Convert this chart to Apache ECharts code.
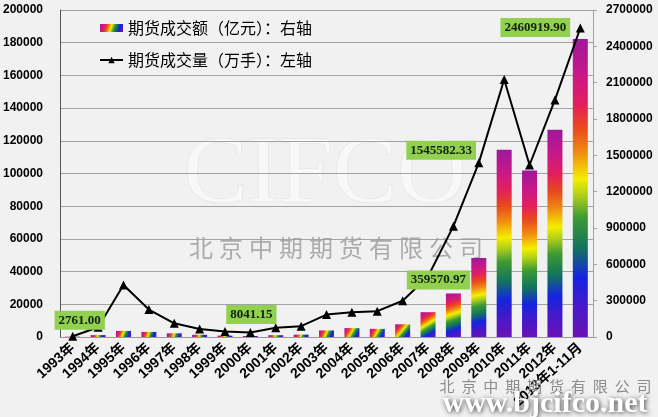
<!DOCTYPE html>
<html><head><meta charset="utf-8">
<script src="https://cdn.jsdelivr.net/npm/echarts@6/dist/echarts.min.js"></script>
<style>html,body{margin:0;padding:0;background:#f1f1f1}#c{width:658px;height:417px}</style>
</head><body><div id="c"></div>
<script>
// ---- data ----
const categories = ['1993年','1994年','1995年','1996年','1997年','1998年','1999年','2000年','2001年','2002年','2003年','2004年','2005年','2006年','2007年','2008年','2009年','2010年','2011年','2012年','2013年1-11月'];
// 期货成交额（亿元）— right axis (bars)
const turnover = [2761.00, 16005, 50282, 42060, 30585, 18484, 11172, 8041.15, 15072, 19745, 54199, 73468, 67232, 105031, 204870, 359570.97, 652571, 1545582.33, 1375116, 1711200, 2460919.90];
// 期货成交量（万手）— left axis (line)
const volume = [500, 6000, 31800, 16800, 8400, 4900, 3400, 2700, 5700, 6600, 13700, 15200, 15800, 22200, 37000, 67800, 106500, 157500, 105200, 145000, 189000];
const leftAxisMax = 200000, leftAxisStep = 20000;
const rightAxisMax = 2700000, rightAxisStep = 300000;
const seriesNames = ['期货成交额（亿元）：右轴', '期货成交量（万手）：左轴'];
const labeledIdx = [0, 7, 15, 17, 20];

// ---- styles ----
const labelOffsets = {0: [7, -7], 7: [1, -12], 15: [-15, -4], 17: [-63, 10], 20: [-45, -2]};
const rainbow = new echarts.graphic.LinearGradient(0, 0, 1, 1, [
  {offset: 0, color: '#9c189c'},
  {offset: 0.12, color: '#c81888'},
  {offset: 0.22, color: '#e4205c'},
  {offset: 0.30, color: '#e84a1c'},
  {offset: 0.38, color: '#f08a12'},
  {offset: 0.47, color: '#f4ee00'},
  {offset: 0.53, color: '#a8cc1c'},
  {offset: 0.60, color: '#3c9a34'},
  {offset: 0.70, color: '#12745c'},
  {offset: 0.80, color: '#1424e0'},
  {offset: 0.90, color: '#4818c8'},
  {offset: 1, color: '#6c12b4'}
]);
const axisFont = {fontFamily: 'Liberation Sans, Noto Sans CJK SC', fontWeight: 'bold', color: '#000'};
const plain = v => String(v);

const graphics = [];
graphics.push({type: 'text', z: -1, left: 183, top: 128, silent: true,
  style: {text: 'CIFCO', font: '96px "Liberation Serif"', fill: '#f8f8f8', stroke: '#e0e0e0', lineWidth: 1}});
'北京中期期货有限公司'.split('').forEach((ch, i) => graphics.push({type: 'text', z: -1, silent: true,
  x: 201 + i * 30, y: 248,
  style: {text: ch, font: '24px "Noto Sans CJK SC"', fill: '#ababab', align: 'center', verticalAlign: 'middle'}}));
'北京中期期货有限公司'.split('').forEach((ch, i) => graphics.push({type: 'text', z: 100, silent: true,
  x: 447 + i * 21.9, y: 386,
  style: {text: ch, font: '15px "Noto Sans CJK SC"', fill: '#8c8c8c', align: 'center', verticalAlign: 'middle'}}));
graphics.push({type: 'text', z: 100, silent: true, x: 545, y: 404,
  style: {text: 'www.bjcifco.net', font: 'bold 30px "Liberation Serif"', fill: '#ffffff', align: 'center', verticalAlign: 'middle',
    textShadowColor: 'rgba(0,0,0,0.75)', textShadowBlur: 5, textShadowOffsetX: 1, textShadowOffsetY: 1}});

const chart = echarts.init(document.getElementById('c'), null, {renderer: 'canvas'});
chart.setOption({
  backgroundColor: '#f1f1f1',
  animation: false,
  graphic: graphics,
  grid: {left: 55, right: 65, top: 10, bottom: 80, containLabel: false},
  legend: {
    data: [{name: seriesNames[0], icon: 'rect'}, {name: seriesNames[1]}],
    orient: 'vertical', left: 99, top: 20, padding: 0,
    itemWidth: 23, itemHeight: 8, itemGap: 16,
    textStyle: {fontSize: 16, lineHeight: 16, color: '#000', fontFamily: 'Noto Sans CJK SC'}
  },
  xAxis: {
    type: 'category', data: categories,
    axisLine: {lineStyle: {color: '#999'}},
    axisTick: {show: false},
    axisLabel: Object.assign({interval: 0, rotate: 42, fontSize: 14, margin: 9}, axisFont)
  },
  yAxis: [{
    type: 'value', min: 0, max: leftAxisMax, interval: leftAxisStep, position: 'left',
    axisLine: {show: true, lineStyle: {color: '#555'}},
    axisTick: {show: false},
    splitLine: {lineStyle: {color: '#a2a2a2'}},
    axisLabel: Object.assign({fontSize: 12, margin: 17, formatter: plain}, axisFont)
  }, {
    type: 'value', min: 0, max: rightAxisMax, interval: rightAxisStep, position: 'right',
    axisLine: {show: true, lineStyle: {color: '#a2a2a2'}},
    axisTick: {show: true, length: 4, lineStyle: {color: '#a2a2a2'}},
    splitLine: {show: false},
    axisLabel: Object.assign({fontSize: 12, margin: 13, formatter: plain}, axisFont)
  }],
  series: [{
    name: seriesNames[0], type: 'bar', yAxisIndex: 1, barWidth: 15, z: 2,
    itemStyle: {color: rainbow},
    data: turnover
  }, {
    name: seriesNames[1], type: 'line', yAxisIndex: 0, z: 3,
    symbol: 'triangle', symbolSize: 9,
    lineStyle: {color: '#000', width: 2},
    itemStyle: {color: '#000'},
    data: volume
  }, {
    name: 'labels', type: 'bar', yAxisIndex: 1, barWidth: 15, barGap: '-100%', z: 5, silent: true,
    itemStyle: {color: 'rgba(0,0,0,0)'},
    label: {show: true, position: 'top', distance: 0,
      formatter: p => Number(p.value).toFixed(2),
      backgroundColor: '#92d050', padding: [3, 4], color: '#102010',
      fontFamily: 'Liberation Serif', fontWeight: 'bold', fontSize: 13, lineHeight: 13},
    data: turnover.map((v, i) => labeledIdx.includes(i) ? {value: v, label: {offset: labelOffsets[i]}} : '-')
  }]
});
</script></body></html>
